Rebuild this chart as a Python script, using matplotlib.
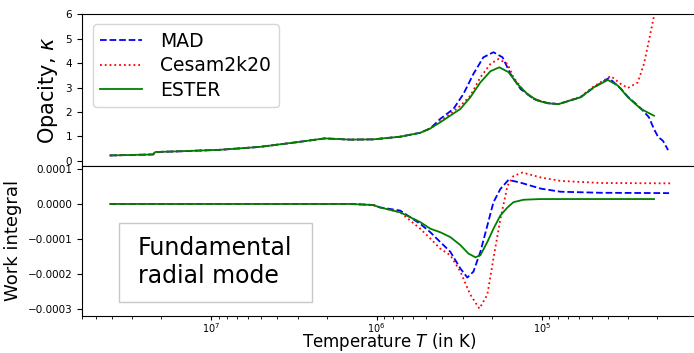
import numpy as np
import matplotlib
matplotlib.use("Agg")
import matplotlib.pyplot as plt
from matplotlib.ticker import FuncFormatter, MultipleLocator
from matplotlib.patches import Rectangle

# ---- data (log10 of temperature in K) ----
# opacity, part shared by all three models at high temperature
logT_low = [7.611, 7.351, 7.338, 7.193, 6.950, 6.707, 6.464, 6.313, 6.161, 6.021, 5.857, 5.736, 5.675]
kap_low = [0.21, 0.25, 0.35, 0.38, 0.44, 0.56, 0.77, 0.91, 0.86, 0.87, 0.98, 1.14, 1.32]

logT_kap_mad = [5.615, 5.535, 5.475, 5.414, 5.354, 5.293, 5.238, 5.190, 5.129, 5.050, 4.965, 4.899,
                4.766, 4.686, 4.595, 4.522, 4.480, 4.401, 4.353, 4.322, 4.298, 4.268, 4.237]
kap_mad = [1.71, 2.12, 2.73, 3.56, 4.24, 4.45, 4.24, 3.56, 2.94, 2.53, 2.36, 2.32,
           2.60, 3.00, 3.39, 2.95, 2.62, 2.14, 1.78, 1.29, 0.98, 0.81, 0.43]

logT_kap_cesam = [5.615, 5.493, 5.433, 5.372, 5.311, 5.263, 5.208, 5.172, 5.111, 5.050, 4.965, 4.899,
                  4.766, 4.686, 4.583, 4.522, 4.480, 4.420, 4.383, 4.353, 4.322, 4.292]
kap_cesam = [1.60, 2.25, 2.66, 3.42, 3.97, 4.17, 3.97, 3.42, 2.87, 2.53, 2.36, 2.32,
             2.62, 3.05, 3.47, 3.14, 2.98, 3.21, 3.97, 4.92, 5.95, 7.5]

logT_kap_ester = [5.615, 5.493, 5.433, 5.372, 5.311, 5.257, 5.202, 5.148, 5.087, 5.026, 4.965, 4.899,
                  4.766, 4.686, 4.601, 4.541, 4.480, 4.401, 4.322]
kap_ester = [1.57, 2.12, 2.60, 3.21, 3.67, 3.83, 3.63, 3.14, 2.73, 2.46, 2.35, 2.32,
             2.60, 3.01, 3.31, 3.08, 2.60, 2.12, 1.84]

# work integral (units of 1e-4)
logT_w_low = [7.611, 6.800, 6.161, 6.021, 5.979]
w_low = [0.0, 0.0, 0.0, -0.03, -0.10]

logT_w_mad = [5.857, 5.736, 5.675, 5.615, 5.554, 5.493, 5.451, 5.414, 5.372, 5.330, 5.293, 5.251,
              5.202, 5.129, 5.008, 4.887, 4.644, 4.231]
w_mad = [-0.19, -0.57, -0.81, -1.09, -1.37, -1.85, -2.11, -1.94, -1.37, -0.62, 0.05, 0.43,
         0.69, 0.61, 0.44, 0.35, 0.32, 0.31]

logT_w_cesam = [5.857, 5.736, 5.675, 5.615, 5.554, 5.493, 5.433, 5.378, 5.330, 5.293, 5.251, 5.208,
                5.172, 5.117, 5.008, 4.887, 4.644, 4.207]
w_cesam = [-0.24, -0.71, -0.99, -1.28, -1.47, -1.94, -2.60, -3.00, -2.60, -1.56, -0.43, 0.52,
           0.80, 0.90, 0.76, 0.66, 0.60, 0.59]

logT_w_ester = [5.857, 5.736, 5.675, 5.615, 5.554, 5.493, 5.445, 5.402, 5.372, 5.330, 5.293, 5.251,
                5.208, 5.172, 5.111, 5.008, 4.322]
w_ester = [-0.24, -0.52, -0.71, -0.81, -0.95, -1.18, -1.42, -1.53, -1.47, -1.09, -0.71, -0.33,
           -0.10, 0.05, 0.12, 0.14, 0.14]


def temp(lt_low, lt):
    return 10.0 ** np.array(lt_low + lt)


fig = plt.figure(figsize=(6.94, 3.53), dpi=100)
ax1 = fig.add_axes([0.118, 0.530, 0.884, 0.429])
ax2 = fig.add_axes([0.118, 0.105, 0.884, 0.425], sharex=ax1)

lw = 1.3
ax1.plot(temp(logT_low, logT_kap_mad), kap_low + kap_mad, "b--", lw=lw, label="MAD")
ax1.plot(temp(logT_low, logT_kap_cesam), kap_low + kap_cesam, "r:", lw=lw, label="Cesam2k20")
ax1.plot(temp(logT_low, logT_kap_ester), kap_low + kap_ester, "g-", lw=lw, label="ESTER")

sc = 1e-4
ax2.plot(temp(logT_w_low, logT_w_mad), np.array(w_low + w_mad) * sc, "b--", lw=lw)
ax2.plot(temp(logT_w_low, logT_w_cesam), np.array(w_low + w_cesam) * sc, "r:", lw=lw)
ax2.plot(temp(logT_w_low, logT_w_ester), np.array(w_low + w_ester) * sc, "g-", lw=lw)

ax1.set_xscale("log")
ax1.set_xlim(6.05e7, 1.18e4)
ax1.set_ylim(-0.22, 6)
ax1.yaxis.set_major_locator(MultipleLocator(1))
ax1.tick_params(labelbottom=False, labelsize=7.5)
ax1.set_ylabel(r"Opacity, $\kappa$", fontsize=15)

ax2.set_ylim(-0.000321, 0.000109)
ax2.yaxis.set_major_locator(MultipleLocator(1e-4))
ax2.yaxis.set_major_formatter(FuncFormatter(lambda v, p: ("%.4f" % (v + 0.0)).replace("-", "\u2212")
                                            if abs(v) > 1e-9 else "0.0000"))
ax2.tick_params(axis="y", labelsize=7.5)
ax2.tick_params(axis="x", which="major", pad=0.5, length=3, labelsize=7)
ax2.tick_params(axis="x", which="minor", length=2)
ax2.set_ylabel("Work integral", fontsize=13)
ax2.set_xlabel(r"Temperature $T$ (in K)", fontsize=12)
ax2.xaxis.set_label_coords(0.5, -0.245)
ax2.xaxis.label.set_va("bottom")

ax1.legend(loc="upper left", bbox_to_anchor=(0.018, 0.937), borderaxespad=0,
           fontsize=13.5, labelspacing=0.3, handlelength=2.2, handletextpad=1.0)

ax2.add_patch(Rectangle((0.060, 0.095), 0.315, 0.525, transform=ax2.transAxes,
                        fc="white", ec="#c8c8c8", lw=1, zorder=5))
ax2.text(0.091, 0.36, "Fundamental\nradial mode", transform=ax2.transAxes,
         ha="left", va="center", fontsize=17, zorder=6)

fig.savefig("out.png", dpi=100)
